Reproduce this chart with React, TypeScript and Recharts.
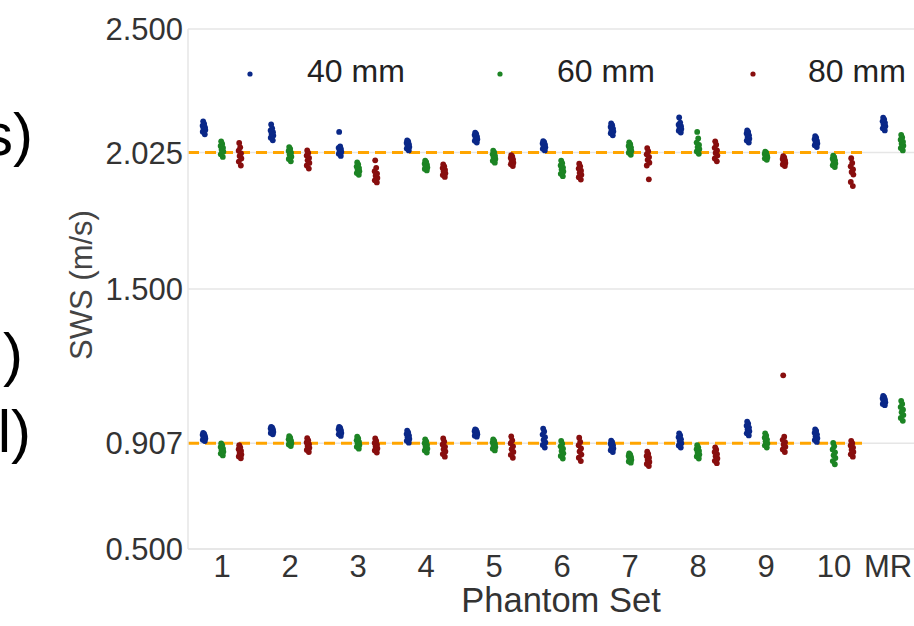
import React from 'react';
import {
  ScatterChart,
  Scatter,
  XAxis,
  YAxis,
  CartesianGrid,
  ReferenceLine,
  Legend,
} from 'recharts';

const CATEGORIES = ['1', '2', '3', '4', '5', '6', '7', '8', '9', '10', 'MR'];
const Y_TICKS = [0.5, 0.907, 1.5, 2.025, 2.5];
const REFERENCE_LEVELS = [2.025, 0.907];
const SERIES_NAMES = ['40 mm', '60 mm', '80 mm'];

// 40 mm, stiffer phantom group (upper) and softer (lower)
const SWS_40_HIGH = [
  [2.095, 2.105, 2.112, 2.118, 2.122, 2.128, 2.135, 2.145],
  [2.072, 2.082, 2.09, 2.097, 2.103, 2.11, 2.118, 2.133],
  [2.012, 2.02, 2.027, 2.032, 2.038, 2.043, 2.048, 2.104],
  [2.033, 2.04, 2.046, 2.051, 2.056, 2.062, 2.068, 2.072],
  [2.063, 2.07, 2.076, 2.081, 2.086, 2.092, 2.097, 2.101],
  [2.033, 2.039, 2.045, 2.05, 2.055, 2.06, 2.065, 2.069],
  [2.091, 2.099, 2.106, 2.111, 2.117, 2.123, 2.13, 2.137],
  [2.102, 2.109, 2.115, 2.12, 2.126, 2.132, 2.14, 2.16],
  [2.063, 2.071, 2.078, 2.085, 2.091, 2.098, 2.104, 2.11],
  [2.046, 2.053, 2.06, 2.065, 2.07, 2.076, 2.082, 2.088],
  [2.11, 2.118, 2.126, 2.133, 2.139, 2.145, 2.152, 2.159],
];
const SWS_40_LOW = [
  [0.915, 0.92, 0.925, 0.93, 0.934, 0.939, 0.943, 0.947],
  [0.941, 0.946, 0.95, 0.955, 0.959, 0.963, 0.967, 0.97],
  [0.935, 0.941, 0.946, 0.951, 0.956, 0.961, 0.966, 0.97],
  [0.909, 0.916, 0.923, 0.93, 0.936, 0.942, 0.948, 0.955],
  [0.932, 0.936, 0.941, 0.945, 0.949, 0.953, 0.957, 0.96],
  [0.89, 0.9, 0.91, 0.92, 0.93, 0.94, 0.952, 0.963],
  [0.873, 0.88, 0.887, 0.893, 0.899, 0.905, 0.911, 0.917],
  [0.89, 0.898, 0.907, 0.915, 0.922, 0.93, 0.937, 0.945],
  [0.937, 0.945, 0.953, 0.96, 0.967, 0.974, 0.982, 0.99],
  [0.912, 0.919, 0.926, 0.933, 0.94, 0.947, 0.954, 0.96],
  [1.053, 1.058, 1.064, 1.069, 1.074, 1.079, 1.084, 1.089],
];

const SWS_60_HIGH = [
  [2.008, 2.018, 2.028, 2.036, 2.043, 2.05, 2.058, 2.068],
  [1.991, 2.0, 2.009, 2.017, 2.024, 2.031, 2.039, 2.046],
  [1.939, 1.946, 1.953, 1.959, 1.965, 1.971, 1.979, 1.987],
  [1.956, 1.962, 1.967, 1.972, 1.977, 1.982, 1.988, 1.994],
  [1.986, 1.993, 2.0, 2.006, 2.012, 2.018, 2.025, 2.032],
  [1.934, 1.943, 1.952, 1.96, 1.967, 1.975, 1.984, 1.994],
  [2.016, 2.024, 2.031, 2.038, 2.044, 2.05, 2.057, 2.064],
  [2.02, 2.029, 2.038, 2.046, 2.054, 2.063, 2.079, 2.104],
  [1.997, 2.002, 2.006, 2.01, 2.014, 2.019, 2.024, 2.028],
  [1.969, 1.976, 1.983, 1.989, 1.995, 2.001, 2.007, 2.013],
  [2.033, 2.042, 2.051, 2.059, 2.066, 2.074, 2.083, 2.093],
];
const SWS_60_LOW = [
  [0.86, 0.867, 0.874, 0.88, 0.886, 0.892, 0.899, 0.906],
  [0.896, 0.902, 0.907, 0.912, 0.917, 0.922, 0.928, 0.934],
  [0.886, 0.893, 0.9, 0.906, 0.912, 0.918, 0.925, 0.932],
  [0.871, 0.879, 0.886, 0.893, 0.9, 0.907, 0.914, 0.922],
  [0.879, 0.886, 0.892, 0.898, 0.904, 0.91, 0.916, 0.922],
  [0.848, 0.858, 0.868, 0.877, 0.886, 0.895, 0.905, 0.916],
  [0.832, 0.837, 0.843, 0.848, 0.853, 0.858, 0.863, 0.868],
  [0.848, 0.856, 0.863, 0.87, 0.877, 0.884, 0.891, 0.899],
  [0.89, 0.898, 0.906, 0.914, 0.921, 0.928, 0.936, 0.945],
  [0.826, 0.838, 0.85, 0.861, 0.872, 0.883, 0.895, 0.908],
  [0.993, 1.004, 1.015, 1.026, 1.036, 1.046, 1.058, 1.07],
];

const SWS_80_HIGH = [
  [1.975, 1.99, 2.002, 2.012, 2.022, 2.032, 2.045, 2.062],
  [1.963, 1.975, 1.985, 1.995, 2.004, 2.013, 2.023, 2.033],
  [1.91, 1.918, 1.927, 1.936, 1.944, 1.953, 1.966, 1.995],
  [1.931, 1.938, 1.945, 1.952, 1.958, 1.965, 1.972, 1.979],
  [1.973, 1.98, 1.986, 1.992, 1.998, 2.004, 2.01, 2.015],
  [1.921, 1.93, 1.939, 1.947, 1.955, 1.963, 1.972, 1.982],
  [1.922, 1.975, 1.986, 1.997, 2.008, 2.018, 2.03, 2.042],
  [1.991, 2.002, 2.013, 2.023, 2.033, 2.043, 2.055, 2.068],
  [1.973, 1.979, 1.985, 1.99, 1.995, 2.0, 2.006, 2.011],
  [1.896, 1.912, 1.94, 1.95, 1.96, 1.972, 1.985, 2.003],
];
const SWS_80_LOW = [
  [0.849, 0.856, 0.863, 0.87, 0.877, 0.884, 0.891, 0.899],
  [0.873, 0.881, 0.889, 0.896, 0.903, 0.91, 0.918, 0.926],
  [0.871, 0.879, 0.887, 0.894, 0.901, 0.908, 0.916, 0.925],
  [0.855, 0.865, 0.875, 0.884, 0.893, 0.902, 0.913, 0.925],
  [0.851, 0.862, 0.873, 0.884, 0.895, 0.906, 0.918, 0.933],
  [0.838, 0.851, 0.863, 0.875, 0.887, 0.899, 0.912, 0.928],
  [0.819, 0.827, 0.835, 0.843, 0.851, 0.858, 0.866, 0.874],
  [0.83, 0.839, 0.848, 0.857, 0.865, 0.873, 0.882, 0.891],
  [0.873, 0.883, 0.893, 0.902, 0.911, 0.92, 0.932, 1.168],
  [0.855, 0.864, 0.873, 0.882, 0.89, 0.898, 0.907, 0.916],
];

// presentation: dodge per series and small horizontal jitter within a strip
const SERIES_OFFSETS = [-0.265, 0, 0.265];
const JITTER = [0.012, -0.018, 0.02, -0.006, 0.015, -0.02, 0.003, -0.012];
const COLORS = ['#0a2888', '#1c8424', '#880e0e'];
const FONT = '"Liberation Sans", Arial, Helvetica, sans-serif';

function buildPoints(groups: number[][][], offset: number) {
  const pts: { x: number; y: number }[] = [];
  groups.forEach((group) =>
    group.forEach((vals, i) =>
      vals.forEach((v, j) => {
        pts.push({ x: i + 1 + offset + JITTER[j % JITTER.length], y: v });
      })
    )
  );
  return pts;
}

const SERIES_DATA = [
  buildPoints([SWS_40_HIGH, SWS_40_LOW], SERIES_OFFSETS[0]),
  buildPoints([SWS_60_HIGH, SWS_60_LOW], SERIES_OFFSETS[1]),
  buildPoints([SWS_80_HIGH, SWS_80_LOW], SERIES_OFFSETS[2]),
];

const LEGEND_POS = [
  { dot: 250, text: 307 },
  { dot: 500, text: 557 },
  { dot: 753, text: 808 },
];

function LegendContent() {
  return (
    <svg width={914} height={50} style={{ display: 'block' }}>
      {SERIES_NAMES.map((name, i) => (
        <g key={name}>
          <circle cx={LEGEND_POS[i].dot} cy={25} r={2.6} fill={COLORS[i]} />
          <text
            x={LEGEND_POS[i].text}
            y={22}
            dominantBaseline="central"
            fontFamily={FONT}
            fontSize={32}
            fill="#222"
          >
            {name}
          </text>
        </g>
      ))}
    </svg>
  );
}

function XTick(props: any) {
  const { x, y, payload } = props;
  const label = CATEGORIES[Math.round(payload.value) - 1];
  const shift = label === 'MR' ? -14 : 0;
  return (
    <text
      x={x + shift}
      y={y}
      dy="0.71em"
      textAnchor="middle"
      fontFamily={FONT}
      fontSize={31}
      fill="#333"
    >
      {label}
    </text>
  );
}

export default function App() {
  return (
    <div
      style={{
        position: 'fixed',
        left: 0,
        top: 0,
        width: 914,
        height: 626,
        overflow: 'hidden',
        background: '#fff',
      }}
    >
      <ScatterChart
        width={940}
        height={626}
        margin={{ top: 29, right: 4, bottom: 0, left: 0 }}
      >
        <CartesianGrid horizontal vertical={false} stroke="#e6e6e6" strokeWidth={1.5} />
        <XAxis
          type="number"
          dataKey="x"
          domain={[0.5, 11.5]}
          ticks={[1, 2, 3, 4, 5, 6, 7, 8, 9, 10, 11]}
          height={77}
          axisLine={{ stroke: '#e6e6e6', strokeWidth: 1.5 }}
          tickLine={false}
          tickSize={4}
          tickMargin={2}
          tick={<XTick />}
          allowDataOverflow
          label={{
            content: (props: any) => {
              const vb = props.viewBox || { x: 188, width: 748 };
              return (
                <text
                  x={vb.x + vb.width / 2 - 1}
                  y={612}
                  textAnchor="middle"
                  fontFamily={FONT}
                  fontSize={34.5}
                  fill="#333"
                >
                  Phantom Set
                </text>
              );
            },
          }}
        />
        <YAxis
          type="number"
          dataKey="y"
          domain={[0.5, 2.5]}
          ticks={Y_TICKS}
          tickFormatter={(v: number) => v.toFixed(3)}
          width={188}
          axisLine={{ stroke: '#e6e6e6', strokeWidth: 1.5 }}
          tickLine={false}
          tickSize={3}
          tickMargin={2}
          tick={{ fontSize: 31, fill: '#333', fontFamily: FONT }}
          allowDataOverflow
          label={{
            content: (props: any) => {
              const vb = props.viewBox || { y: 29, height: 520 };
              const cy = vb.y + vb.height / 2 - 4;
              return (
                <text
                  x={81}
                  y={cy}
                  transform={`rotate(-90 81 ${cy})`}
                  textAnchor="middle"
                  dominantBaseline="central"
                  fontFamily={FONT}
                  fontSize={31}
                  fill="#444"
                >
                  SWS (m/s)
                </text>
              );
            },
          }}
        />
        <Legend
          verticalAlign="middle"
          align="center"
          layout="horizontal"
          content={() => <LegendContent />}
          wrapperStyle={{ position: 'absolute', top: 49, left: 0, width: 914, height: 50 }}
        />
        {REFERENCE_LEVELS.map((lvl) => (
          <ReferenceLine
            key={lvl}
            segment={[
              { x: 0.5, y: lvl },
              { x: 10.46, y: lvl },
            ]}
            stroke="#FFA500"
            strokeWidth={3}
            strokeDasharray="11 6"
          />
        ))}
        {SERIES_NAMES.map((name, i) => (
          <Scatter
            key={name}
            name={name}
            data={SERIES_DATA[i]}
            fill={COLORS[i]}
            isAnimationActive={false}
            shape={(p: any) => <circle cx={p.cx} cy={p.cy} r={2.9} fill={COLORS[i]} />}
          />
        ))}
      </ScatterChart>
      <svg
        width={60}
        height={626}
        style={{ position: 'absolute', left: 0, top: 0, pointerEvents: 'none' }}
      >
        <text x={33} y={155} textAnchor="end" fontFamily={FONT} fontSize={60} fill="#000">
          s)
        </text>
        <text x={23} y={375} textAnchor="end" fontFamily={FONT} fontSize={60} fill="#000">
          )
        </text>
        <text x={31} y={452} textAnchor="end" fontFamily={FONT} fontSize={60} fill="#000">
          l)
        </text>
      </svg>
    </div>
  );
}
